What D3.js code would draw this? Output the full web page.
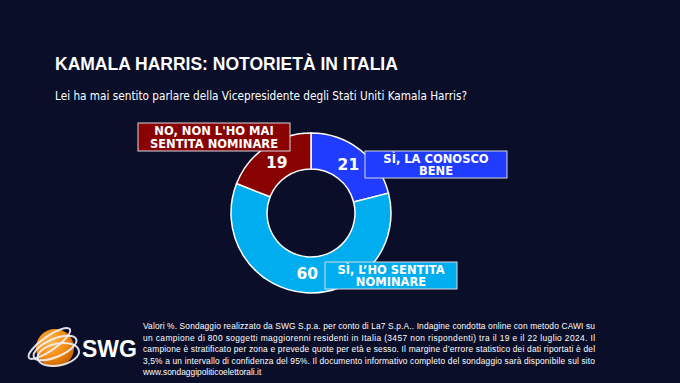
<!DOCTYPE html>
<html>
<head>
<meta charset="utf-8">
<script src="https://cdn.jsdelivr.net/npm/d3@7"></script>
<style>
  html, body { margin: 0; padding: 0; background: #0b0e28; }
  svg { display: block; }
</style>
</head>
<body>
<div id="chart"></div>
<script>
// data
const categories = ["SÌ, LA CONOSCO BENE", "SÌ, L’HO SENTITA NOMINARE", "NO, NON L'HO MAI SENTITA NOMINARE"];
const values = [21, 60, 19];
const labelLines = [["SÌ, LA CONOSCO", "BENE"], ["SÌ, L’HO SENTITA", "NOMINARE"], ["NO, NON L'HO MAI", "SENTITA NOMINARE"]];
const sliceColors = ["#1f3cff", "#00aeef", "#8a0303"];

const titleText = "KAMALA HARRIS: NOTORIETÀ IN ITALIA";
const subtitleText = "Lei ha mai sentito parlare della Vicepresidente degli Stati Uniti Kamala Harris?";
const noteLines = [
  "Valori %. Sondaggio realizzato da SWG S.p.a. per conto di La7 S.p.A.. Indagine condotta online con metodo CAWI su",
  "un campione di 800 soggetti maggiorenni residenti in Italia (3457 non rispondenti) tra il 19 e il 22 luglio 2024. Il",
  "campione è stratificato per zona e prevede quote per età e sesso. Il margine d’errore statistico dei dati riportati è del",
  "3,5% a un intervallo di confidenza del 95%. Il documento informativo completo del sondaggio sarà disponibile sul sito",
  "www.sondaggipoliticoelettorali.it"
];

//***************************************************************
//                    LAYOUT CONSTANTS
//***************************************************************
const WIDTH = 680, HEIGHT = 383;
const CX = 311, CY = 213;
const OUTER_R = 80, INNER_R = 44, LABEL_R = 61;
// label boxes: [x, y, w, h] offsets from donut centre
const BOXES = [[54, -62, 142, 27], [14, 49, 132, 27], [-173, -90, 152, 28]];

const svg = d3.select("#chart").append("svg")
  .attr("width", WIDTH)
  .attr("height", HEIGHT);

svg.append("rect").attr("width", WIDTH).attr("height", HEIGHT).attr("fill", "#0b0e28");

// title + question
svg.append("text")
  .attr("x", 55).attr("y", 70)
  .attr("fill", "#ffffff")
  .style("font", "bold 17.5px 'Liberation Sans', Arial, sans-serif")
  .text(titleText);

svg.append("text")
  .attr("x", 55).attr("y", 100)
  .attr("fill", "#ffffff")
  .attr("textLength", 412)
  .attr("lengthAdjust", "spacingAndGlyphs")
  .style("font", "12px 'DejaVu Sans', Verdana, sans-serif")
  .text(subtitleText);

//***************************************************************
//                    DONUT
//***************************************************************
const pie = d3.pie().sort(null).value(d => d);
const arcs = pie(values);
const arc = d3.arc().innerRadius(INNER_R).outerRadius(OUTER_R);
const labelArc = d3.arc().innerRadius(LABEL_R).outerRadius(LABEL_R);

const donut = svg.append("g").attr("transform", `translate(${CX},${CY})`);

donut.selectAll("path")
  .data(arcs)
  .join("path")
  .attr("d", arc)
  .attr("fill", (d, i) => sliceColors[i])
  .attr("stroke", "#ffffff")
  .attr("stroke-width", 1.5);

donut.selectAll("text.value")
  .data(arcs)
  .join("text")
  .attr("class", "value")
  .attr("transform", d => `translate(${labelArc.centroid(d)})`)
  .attr("text-anchor", "middle")
  .attr("dy", "0.36em")
  .attr("fill", "#ffffff")
  .style("font", "bold 15.5px 'DejaVu Sans', Verdana, sans-serif")
  .text(d => d.data);

// category boxes
const boxes = donut.selectAll("g.box")
  .data(arcs)
  .join("g")
  .attr("class", "box")
  .attr("transform", (d, i) => `translate(${BOXES[i][0]},${BOXES[i][1]})`);

boxes.append("rect")
  .attr("width", (d, i) => BOXES[i][2])
  .attr("height", (d, i) => BOXES[i][3])
  .attr("fill", (d, i) => sliceColors[i])
  .attr("stroke", "#d8d8e0")
  .attr("stroke-width", 1);

boxes.each(function (d, i) {
  const t = d3.select(this).append("text")
    .attr("text-anchor", "middle")
    .attr("fill", "#ffffff")
    .style("font", "bold 11.5px 'DejaVu Sans', Verdana, sans-serif");
  labelLines[i].forEach((line, j) => {
    t.append("tspan")
      .attr("x", BOXES[i][2] / 2)
      .attr("y", BOXES[i][3] / 2 - 2 + j * 12.5)
      .text(line);
  });
});

//***************************************************************
//                    LOGO + NOTE
//***************************************************************
const defs = svg.append("defs");
const grad = defs.append("radialGradient").attr("id", "orb").attr("cx", "40%").attr("cy", "35%").attr("r", "70%");
grad.append("stop").attr("offset", "0%").attr("stop-color", "#ffb347");
grad.append("stop").attr("offset", "60%").attr("stop-color", "#f28a10");
grad.append("stop").attr("offset", "100%").attr("stop-color", "#c05a00");

const logo = svg.append("g").attr("transform", "translate(55,348)");
logo.append("circle").attr("r", 19).attr("fill", "url(#orb)");
[-35, -35, -35].forEach((rot, k) => {
  logo.append("ellipse")
    .attr("rx", 25 - k * 2).attr("ry", 7 + k * 2)
    .attr("transform", `rotate(${rot + k * 12}) translate(${k * 2 - 2},${(k - 1) * 7})`)
    .attr("fill", "none")
    .attr("stroke", "#f2f2f7")
    .attr("stroke-width", 2)
    .attr("opacity", 0.9);
});
svg.append("text")
  .attr("x", 82).attr("y", 357)
  .attr("fill", "#ffffff")
  .style("font", "bold 23px 'Liberation Sans', Arial, sans-serif")
  .text("SWG");

svg.append("g").selectAll("text")
  .data(noteLines)
  .join("text")
  .attr("x", 143)
  .attr("y", (d, i) => 329 + i * 11.6)
  .attr("fill", "#ffffff")
  .attr("textLength", (d, i) => i < noteLines.length - 1 ? 452 : null)
  .attr("lengthAdjust", "spacing")
  .style("font", "8.4px 'Liberation Sans', Arial, sans-serif")
  .text(d => d);
</script>
</body>
</html>
